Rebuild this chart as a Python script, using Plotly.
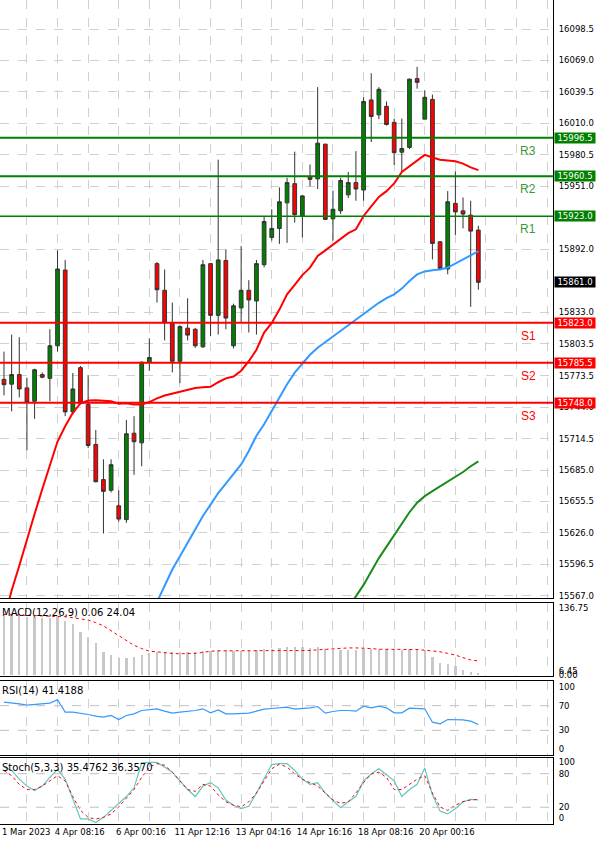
import plotly.graph_objects as go
from plotly.subplots import make_subplots

opens = [15770,15765.5,15774.5,15762,15749.5,15774.5,15771,15801.5,15872.5,15739.5,15781,15746.5,15709,15676,15666,15651.5,15638.5,15719.5,15710.5,15786,
         15878.5,15853.5,15822.5,15787,15818,15817,15800.5,15878.5,15830,15881.5,15801.5,15837,15853.5,15843.5,15877.5,15903,15911.5,15935.5,15953.5,15923,
         15960,15958,15990.5,15920.5,15928,15943,15954.5,15947.5,16032,16018,16026,16011,15983,15987.5,16052,16014,16032.5,15899,15873.5,15935,15928,15924,15910]
highs = [15796,15812,15809.5,15771.5,15780,15776.5,15817,15891,15882,15776,15782.5,15774,15722.5,15695,15695,15666,15732,15735.5,15787,15808.5,
         15880,15873,15842,15820.5,15846,15818,15882,15879,15976,15892,15841,15895,15863,15882,15923,15929.5,15950,15959,15983.5,15943,
         15971.5,16044,15991,15947,15959,15964.5,15984,16034.5,16057,16044,16030.5,16014.5,16014.5,16052,16063,16041,16037,15899.5,15946.5,15965,15940.5,15937.5,15914]
lows = [15755,15740,15753,15703.5,15733,15771,15749.5,15796,15735.5,15737,15746.5,15705.5,15673.5,15625.5,15664,15636.5,15635.5,15680.5,15688.5,15778,
        15842,15806.5,15776.5,15766.5,15806.5,15799.5,15799.5,15810.5,15812,15817,15799,15823,15814,15812,15875,15900,15897,15898,15917,15903,
        15951,15948.5,15920,15900,15925,15940,15937.5,15937.5,15992.5,16014,16008,15971,15965,15986,16042.5,16014,15882.5,15873,15868.5,15905.5,15911.5,15838,15854]
closes = [15765,15774.5,15761,15748.5,15779,15772,15801.5,15873.5,15739.5,15761,15747.5,15708,15674,15665,15690,15639,15719,15711.5,15786,15790.5,
          15854,15823,15787,15819.5,15811.5,15801.5,15877.5,15830,15882,15827.5,15839,15853.5,15844.5,15878.5,15918,15911.5,15936.5,15954.5,15924.5,15942,
          15957.5,15991.5,15920,15929.5,15956.5,15954.5,15948.5,16030.5,16016.5,16042,16009,15982.5,15986.5,16051.5,16048.5,16034.5,15897.5,15874,15936.5,15927,15925,15909,15861]

ma_red = [15545,15572,15595.3,15620.4,15643.7,15666.9,15690.2,15711.7,15726.1,15738.6,15747.6,15750.1,15750.5,15750.1,15749.4,15747.2,15747.6,15746.5,15746.5,15748.7,
          15752.2,15754.8,15756.5,15758.3,15760.1,15761.9,15762.6,15763,15767.3,15770.9,15772.7,15778.1,15787,15797.8,15813.9,15822.9,15835.4,15849.7,15858.7,15867.7,
          15874.8,15885.6,15890.9,15896.3,15901.7,15907.1,15910.7,15923.2,15932.2,15941.1,15946.5,15953.7,15964.4,15969.8,15975.9,15980.5,15978,15975.9,15975.2,15974.5,15972.3,15968.7,15966.2]
ma_blue = [None]*20 + [15561.2,15577.3,15591.7,15604.2,15616.8,15629.3,15641.9,15652.6,15663.4,15672.3,15681.3,15690.2,15702.8,15717.1,15727.9,15740.4,15753,15765.5,15776.3,15785.2,
          15793.1,15799.6,15804.9,15810.3,15815.7,15821.1,15826.4,15831.8,15837.2,15841.8,15846.1,15849.7,15855.1,15862.3,15868.4,15871.2,15872.3,15873,15874.8,15878.4,15882,15886.3,15890.2]
ma_green = [None]*45 + [15555.8,15566.6,15577.3,15589.9,15602.4,15613.2,15623.9,15634.7,15645.4,15654.4,15660.5,15665.2,15669.8,15674.1,15678.4,15683.1,15688.5,15693.1]

macd_hist = [120,120,120,118.7,118.7,116.7,116.7,120,110,103.4,86.7,76.7,65.4,46.7,40,34.7,33.4,36.7,40,43.4,
             46.7,46.7,46.7,45.4,46.7,46.7,48,48,50,50,48,48,49.4,50,52,53.4,54.7,56.7,56.7,56.7,
             54.7,56.7,53.4,51.4,51.4,51.4,50,53.4,53.4,53.4,53.4,52,51.4,53.4,53.4,50,36.7,23.4,21.4,18,10,5.3,1.3]
macd_signal = [123.4,122.7,122.7,122,121.4,121.4,120.7,120,118.7,116.7,114.7,112,106.7,100,90,80,70,60,53.4,48,
               46.7,44.7,43.4,42.7,42.7,43.4,45.4,48,48.7,48.7,48.7,48.7,48.7,48.7,48.7,48.7,48.7,48.7,48.7,48.7,
               49.4,50.7,52,53.4,54,54.7,54.7,54.7,53.4,52,52,51.4,51.4,51.4,51.4,50,48.7,46.7,43.4,40,34.7,30,28]
rsi = [75.7,74.6,73,70.8,71.9,72.4,74.1,79.5,59.5,59.5,57.8,55.7,53,51.4,54.1,47.6,54.1,56.8,62.2,63.2,
       64.9,61.1,57.8,59.5,60.5,62.2,64.9,58.4,63.2,56.8,56.8,57.3,57.8,61.1,64.3,65.4,66.5,67.6,64.3,64.9,
       66.5,68.6,57.8,60.5,62.2,62.2,61.1,69.2,66.5,69.2,66.5,58.4,58.4,65.9,65.9,64.9,43.2,40.5,47.6,47,47,44.9,39.5]
stoch_k = [91.9,85.7,70.2,57.8,49.7,57.8,73.3,87.6,70.2,32.9,-1,-1,-7.5,1.9,14.3,26.7,39.1,54.7,99.4,100,
           100,91.9,82.6,67.1,51.6,39.1,57.8,64,54.7,32.9,23.6,17.4,21.7,45.3,70.2,96.3,98.1,98.1,85.7,70.2,
           60.9,64,45.3,32.9,19.3,29.8,39.1,67.1,79.5,88.8,77.6,67.1,39.1,51.6,60.9,90,42.2,13,8.1,17.4,29.8,34.2,32.9]
stoch_d = [85.7,76.4,60.9,51.6,51.6,57.8,67.1,76.4,67.1,39.1,14.3,1.9,-1.2,1.9,8.1,20.5,36,51.6,73.3,91.9,
           98.1,95,82.6,67.1,51.6,48.4,60.9,57.8,42.2,29.8,23.6,20.5,29.8,45.3,67.1,88.8,96.9,91.9,79.5,70.2,
           64,57.8,45.3,32.9,26.7,29.8,45.3,64,79.5,82.6,73.3,51.6,51.6,60.9,70.2,76.4,45.3,20.5,14.3,23.6,29.8,32.9,34.2]

levels = [15996.5, 15960.5, 15923.0, 15823.0, 15785.5, 15748.0]
level_names = ["R3", "R2", "R1", "S1", "S2", "S3"]
last_price = 15861.0
price_ticks = [16098.5,16069.0,16039.5,16010.0,15980.5,15951.0,15892.0,15833.0,15803.5,15773.5,15744.0,15714.5,15685.0,15655.5,15626.0,15596.5,15567.0]
first_label = "1 Mar 2023"
date_labels = ["4 Apr 08:16","6 Apr 00:16","11 Apr 12:16","13 Apr 04:16","14 Apr 16:16","18 Apr 08:16","20 Apr 00:16"]

n = len(closes)
idx = list(range(n))
GREEN = "#008000"; RED = "#ff0000"
FONT = "DejaVu Sans"

fig = make_subplots(rows=4, cols=1, shared_xaxes=True)
fig.add_trace(go.Candlestick(x=idx, open=opens, high=highs, low=lows, close=closes,
    increasing=dict(fillcolor=GREEN, line=dict(color="#333333", width=1)),
    decreasing=dict(fillcolor=RED, line=dict(color="#333333", width=1)),
    whiskerwidth=0, showlegend=False), row=1, col=1)
fig.add_trace(go.Scatter(x=idx, y=ma_red, mode="lines", line=dict(color=RED, width=2), showlegend=False), row=1, col=1)
fig.add_trace(go.Scatter(x=idx, y=ma_blue, mode="lines", line=dict(color="#3399ff", width=2), showlegend=False), row=1, col=1)
fig.add_trace(go.Scatter(x=idx, y=ma_green, mode="lines", line=dict(color="#1a8a1a", width=2), showlegend=False), row=1, col=1)

for v, name in zip(levels, level_names):
    col = GREEN if name.startswith("R") else RED
    fig.add_hline(y=v, line=dict(color=col, width=1.5 if name == "R1" else 2), row=1, col=1)
    fig.add_annotation(x=68.5, y=v, yshift=-13, text=name, showarrow=False,
                       font=dict(color="#3a9a3a" if col == GREEN else RED, size=12, family="Liberation Sans"),
                       xref="x", yref="y")
    fig.add_annotation(x=0.9233, xref="paper", y=v, yref="y", xanchor="left", text=f"{v:.1f}",
                       showarrow=False, bgcolor=col, font=dict(color="white", size=8.5, family=FONT),
                       borderpad=0, width=40)
fig.add_annotation(x=0.9233, xref="paper", y=last_price, yref="y", xanchor="left", text=f"{last_price:.1f}",
                   showarrow=False, bgcolor="black", font=dict(color="white", size=8.5, family=FONT),
                   borderpad=0, width=40)

fig.add_trace(go.Bar(x=idx, y=macd_hist, marker=dict(color="#c8c8c8", line=dict(width=0)), width=0.3, showlegend=False), row=2, col=1)
fig.add_trace(go.Scatter(x=idx, y=macd_signal, mode="lines", line=dict(color=RED, width=1, dash="dot"), showlegend=False), row=2, col=1)
fig.add_trace(go.Scatter(x=idx, y=rsi, mode="lines", line=dict(color="#3399ff", width=1.2), showlegend=False), row=3, col=1)
fig.add_trace(go.Scatter(x=idx, y=stoch_k, mode="lines", line=dict(color="#5cc8c0", width=1.2), showlegend=False), row=4, col=1)
fig.add_trace(go.Scatter(x=idx, y=stoch_d, mode="lines", line=dict(color=RED, width=1, dash="dot"), showlegend=False), row=4, col=1)

for v, r in [(70, 3), (30, 3), (80, 4), (20, 4)]:
    fig.add_hline(y=v, line=dict(color="#c0c0c0", width=1, dash="dash"), row=r, col=1)

labels = [("MACD(12,26,9) 0.06 24.04", "y2 domain"), ("RSI(14) 41.4188", "y3 domain"), ("Stoch(5,3,3) 35.4762 36.3570", "y4 domain")]
for txt, yr in labels:
    fig.add_annotation(x=0, xref="paper", y=0.97, yref=yr, xanchor="left", yanchor="top", text=txt,
                       showarrow=False, font=dict(size=10, color="black", family=FONT))

W = 553 / 600
H = 844.0
doms = [(1 - 598 / H, 1.0), (1 - 676 / H, 1 - 603 / H), (1 - 755 / H, 1 - 681 / H), (1 - 824 / H, 1 - 758 / H)]
tickfont = dict(size=8.5, color="black", family=FONT)
grid_x = list(range(3, 75, 4))
label_x = [9.9 + 8 * k for k in range(len(date_labels))]
for i in range(4):
    suffix = "" if i == 0 else str(i + 1)
    fig.layout["xaxis" + suffix].update(domain=[0, W], range=[-0.52, 71.76], showgrid=False,
        tickvals=label_x, ticktext=date_labels, showticklabels=(i == 3), ticks="", tickangle=0,
        tickfont=dict(size=8.5, color="black", family=FONT), automargin=False, ticklabelstandoff=0,
        minor=dict(tickvals=grid_x, showgrid=True, gridcolor="#d0d0d0", griddash="dash", ticks=""),
        showline=True, linecolor="black", mirror=True, zeroline=False, rangeslider=dict(visible=False))
    fig.layout["yaxis" + suffix].update(domain=list(doms[i]), side="right", tickfont=tickfont, automargin=False,
        showline=True, linecolor="black", mirror=True, zeroline=False, ticks="", ticklabelstandoff=3)

fig.add_annotation(x=0, xref="paper", y=doms[3][0], yref="paper", xanchor="left", yanchor="top", yshift=-1,
                   text=first_label, showarrow=False, font=dict(size=8.5, color="black", family=FONT))

fig.update_layout(yaxis=dict(range=[15565, 16125.7], tickvals=price_ticks, ticktext=[f"{v:.1f}" for v in price_ticks],
                             showgrid=True, gridcolor="#d0d0d0", griddash="dash"),
                  yaxis2=dict(range=[-3, 147], tickvals=[136.75, 6.45, 0], ticktext=["136.75", "6.45", "0.00"], showgrid=False),
                  yaxis3=dict(range=[-10, 110], tickvals=[100, 70, 30, 0], showgrid=False),
                  yaxis4=dict(range=[-10, 108], tickvals=[100, 80, 20, 0], showgrid=False))

fig.update_layout(width=600, height=844, margin=dict(l=0, r=0, t=0, b=0),
                  paper_bgcolor="white", plot_bgcolor="white", bargap=0)
fig.write_html("out.html", config={"displayModeBar": False},
               post_script="document.body.style.margin='0';document.body.style.overflow='hidden';document.documentElement.style.overflow='hidden';")
